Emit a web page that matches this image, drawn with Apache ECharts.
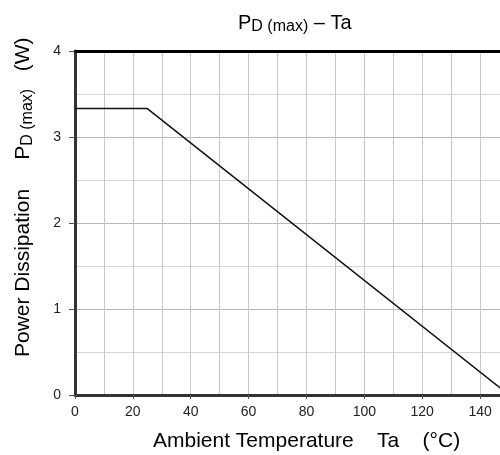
<!DOCTYPE html>
<html><head><meta charset="utf-8">
<script src="https://cdn.jsdelivr.net/npm/echarts@6/dist/echarts.min.js"></script>
<style>html,body{margin:0;padding:0;background:#fff;overflow:hidden}#c{width:509px;height:455px}</style>
</head><body><div id="c"></div>
<script>
const temperature = [0, 25, 150];
const powerDissipation = [3.33, 3.33, 0];
const xTicks = [0, 20, 40, 60, 80, 100, 120, 140];
const yTicks = [0, 1, 2, 3, 4];

const font = 'Liberation Sans, Arial, sans-serif';
const chart = echarts.init(document.getElementById('c'));
const richMain = {fontFamily: font, fontSize: 20, fill: '#000', padding: [0,0,3,0]};
const richSub = {fontFamily: font, fontSize: 16, fill: '#000', padding: [5,0,0,0]};
const richMainY = {fontFamily: font, fontSize: 21, fill: '#000', padding: [0,0,3,0]};
const richSubY = {fontFamily: font, fontSize: 16, fill: '#000', padding: [5,0,0,0]};
chart.setOption({
  animation: false,
  backgroundColor: '#fff',
  graphic: [{
    type: 'text', left: 238, top: 13, z: 10,
    style: {text: '{m|P}{s|D (max)}{m| – Ta}', rich: {m: richMain, s: richSub}}
  }, {
    type: 'text', left: 153, top: 431, z: 10,
    style: {text: 'Ambient Temperature    Ta    (°C)', fontFamily: font, fontSize: 21, fill: '#000'}
  }, {
    type: 'text', z: 10, x: 13, y: 357, rotation: Math.PI / 2,
    style: {text: '{m|Power Dissipation     P}{s|D (max)}{m|   (W)}', rich: {m: richMainY, s: richSubY},
      align: 'left', verticalAlign: 'top'}
  }],
  grid: {left: 75, top: 51, bottom: 60, right: 0},
  xAxis: [{
    type: 'value', min: 0, max: 150, interval: 20, position: 'bottom',
    axisLine: {show: true, lineStyle: {color: '#333', width: 3}},
    axisTick: {show: true, length: 4, lineStyle: {color: '#555', width: 1}},
    axisLabel: {fontFamily: font, fontSize: 14, color: '#222', margin: 10, showMaxLabel: false,
      formatter: v => xTicks.includes(v) ? String(v) : ''},
    splitLine: {show: false}
  }, {
    type: 'value', min: 0, max: 150, interval: 10, position: 'top',
    axisLine: {show: true, lineStyle: {color: '#000', width: 3}},
    axisTick: {show: false}, axisLabel: {show: false},
    splitLine: {show: true, lineStyle: {color: '#c8c8c8', width: 1}}
  }],
  yAxis: {
    type: 'value', min: 0, max: 4, interval: 1,
    axisLine: {show: true, lineStyle: {color: '#333', width: 3}},
    axisTick: {show: true, length: 6, lineStyle: {color: '#555', width: 1}},
    axisLabel: {fontFamily: font, fontSize: 14, color: '#222', margin: 14,
      formatter: v => yTicks.includes(v) ? String(v) : ''},
    splitLine: {show: true, lineStyle: {color: '#b8b8b8', width: 1}},
    minorTick: {show: false, splitNumber: 2},
    minorSplitLine: {show: true, lineStyle: {color: '#d4d4d4', width: 1}}
  },
  series: [{
    type: 'line', xAxisIndex: 0,
    data: temperature.map((t, i) => [t, powerDissipation[i]]),
    showSymbol: false, lineStyle: {color: '#111', width: 1.5}, z: 5
  }]
});
</script></body></html>
